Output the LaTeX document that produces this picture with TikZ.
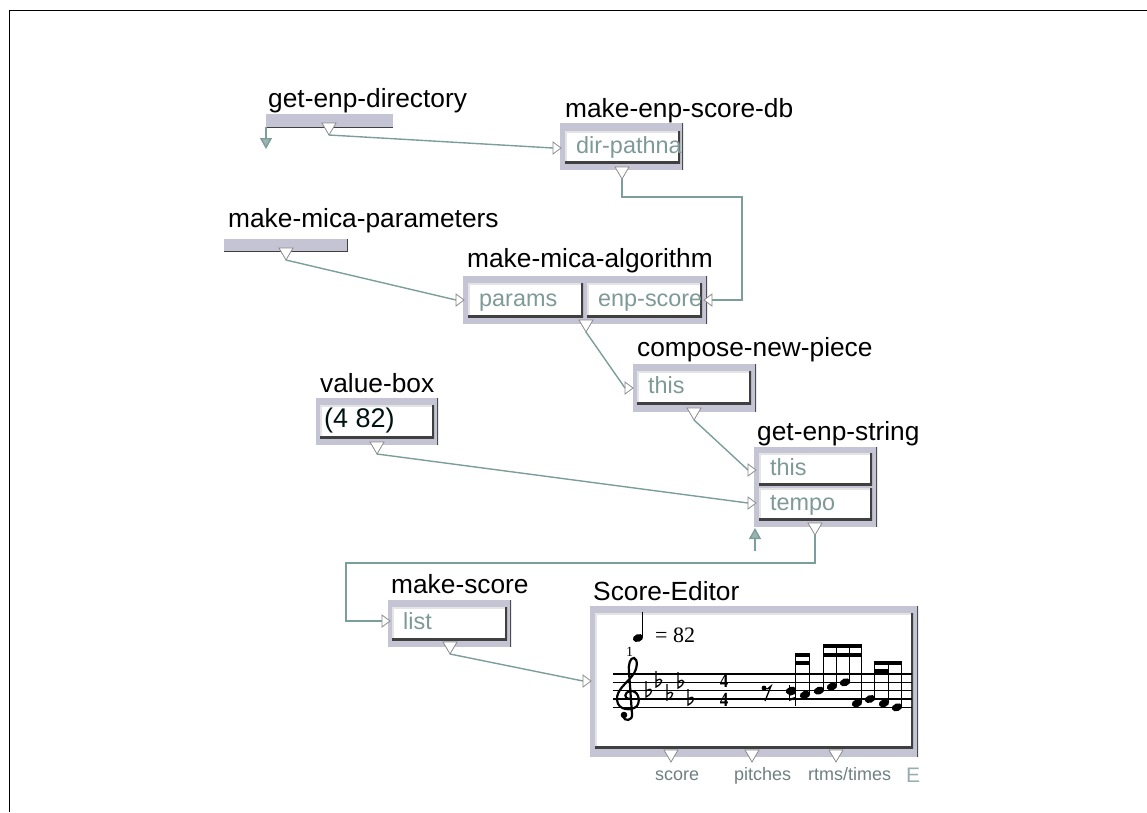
\documentclass[tikz,border=0pt]{standalone}
\usepackage{fontspec}
\setmainfont{Liberation Sans}
\newfontfamily\notefont{Liberation Serif}
\usetikzlibrary{arrows.meta}

\definecolor{framegrey}{HTML}{C5C4D4}
\definecolor{fielddark}{HTML}{404040}
\definecolor{fieldlight}{HTML}{E4E4E4}
\definecolor{porttext}{HTML}{7E9A97}
\definecolor{wirecol}{HTML}{7C9E9A}
\definecolor{tricol}{HTML}{8C8C8C}
\definecolor{arrowfill}{HTML}{9DB3B1}
\definecolor{outtext}{HTML}{6E8080}

\tikzset{
    boxframe/.style={anchor=north west, fill=framegrey, inner sep=0pt,
        path picture={\draw[black!70, line width=1.5pt]
            (path picture bounding box.north east) -- (path picture bounding box.south east);}},
    field/.style={anchor=north west, fill=white, inner sep=0pt,
        path picture={
            \draw[fieldlight, line width=4pt] (path picture bounding box.south west)
                -- (path picture bounding box.north west) -- (path picture bounding box.north east);
            \draw[fielddark, line width=5pt] (path picture bounding box.south west)
                -- (path picture bounding box.south east) -- (path picture bounding box.north east);}},
    lbl/.style={anchor=base west, inner sep=0pt, font=\fontsize{26.3}{30}\selectfont},
    porttxt/.style={anchor=west, inner sep=0pt, xshift=11pt, text=porttext,
        text height=17pt, text depth=5pt, font=\fontsize{23.4}{26}\selectfont},
    outlbl/.style={anchor=base west, inner sep=0pt, text=outtext, font=\fontsize{18}{20}\selectfont},
    wire/.style={draw=wirecol, line width=1.4pt},
    tri/.style={draw=tricol, fill=white, line width=0.8pt, line join=miter},
    outport/.pic={\draw[tri] (-7,0) -- (7,0) -- (0,12) -- cycle; \coordinate (-tip) at (0,12);},
    inport/.pic={\draw[tri] (-8,-6) -- (0,0) -- (-8,6) -- cycle; \coordinate (-base) at (-8,0);},
    flatsign/.pic={\draw[line width=1.3pt] (0,-16) -- (0,0) .. controls (8,-4) and (7,-11) .. (0,-6);},
    timesig/.style={inner sep=0pt, xscale=0.85, align=center,
        font=\notefont\bfseries\fontsize{20}{19.5}\selectfont},
    staffline/.style={line width=1.1pt},
    stem/.style={line width=1pt}
}

\begin{document}
\begin{tikzpicture}[x=1pt,y=-1pt]
    \useasboundingbox (0,0) rectangle (1147,812);
    \draw[line width=1pt] (9.5,812) -- (9.5,10.5) -- (1147,10.5);

    % Labels
    \node[lbl] (ged-lbl) at (268,107) {get-enp-directory};
    \node[lbl] (mesd-lbl) at (565,117) {make-enp-score-db};
    \node[lbl] (mmp-lbl) at (228,227) {make-mica-parameters};
    \node[lbl] (mma-lbl) at (467,267) {make-mica-algorithm};
    \node[lbl] (cnp-lbl) at (637,356) {compose-new-piece};
    \node[lbl] (vb-lbl) at (320,392) {value-box};
    \node[lbl] (ges-lbl) at (757,440) {get-enp-string};
    \node[lbl] (ms-lbl) at (391,593) {make-score};
    \node[lbl] (se-lbl) at (593,600) {Score-Editor};

    % Bars without inputs
    \fill[framegrey] (266,114) rectangle (393,127);
    \draw[fielddark, line width=1pt] (266,127) -- (393,127);
    \fill[framegrey] (224,239) rectangle (347,251);
    \draw[fielddark, line width=1pt] (224,251) -- (347,251) -- (347,239);

    % Frames
    \node[boxframe, minimum width=123pt, minimum height=47pt] (mesd) at (560,123) {};
    \node[boxframe, minimum width=244pt, minimum height=48pt] (mma) at (463,276) {};
    \node[boxframe, minimum width=123pt, minimum height=48pt] (cnp) at (633,364) {};
    \node[boxframe, minimum width=122pt, minimum height=47pt] (vb) at (316,398) {};
    \node[boxframe, minimum width=123pt, minimum height=80pt] (ges) at (754,447) {};
    \node[boxframe, minimum width=123pt, minimum height=47pt] (ms) at (388,600) {};
    \node[boxframe, minimum width=328pt, minimum height=151pt] (se) at (590,606) {};

    % Fields
    \node[field, minimum width=115pt, minimum height=32pt] (mesd-f) at (565,131) {};
    \node[porttxt] (mesd-t) at (mesd-f.west) {dir-pathna};
    \node[field, minimum width=115pt, minimum height=34pt] (mma-f1) at (468,283) {};
    \node[porttxt] (mma-t1) at (mma-f1.west) {params};
    \node[field, minimum width=115pt, minimum height=34pt] (mma-f2) at (587,283) {};
    \node[porttxt] (mma-t2) at (mma-f2.west) {enp-score};
    \node[field, minimum width=114pt, minimum height=33pt] (cnp-f) at (637,371) {};
    \node[porttxt] (cnp-t) at (cnp-f.west) {this};
    \node[field, minimum width=114pt, minimum height=33pt] (vb-f) at (320,405) {};
    \node[porttxt, xshift=-7pt, text=black!85!teal, font=\fontsize{27}{30}\selectfont] (vb-t) at (vb-f.west) {(4 82)};
    \node[field, minimum width=113pt, minimum height=32pt] (ges-f1) at (759,453) {};
    \node[porttxt] (ges-t1) at (ges-f1.west) {this};
    \node[field, minimum width=113pt, minimum height=32pt] (ges-f2) at (759,488) {};
    \node[porttxt] (ges-t2) at (ges-f2.west) {tempo};
    \node[field, minimum width=115pt, minimum height=33pt] (ms-f) at (392,607) {};
    \node[porttxt] (ms-t) at (ms-f.west) {list};
    \node[field, minimum width=318pt, minimum height=135pt] (se-f) at (595,613) {};

    % Score
    \foreach \s in {0,...,4}
        \draw[staffline] (613,{674+8.33*\s}) -- (912,{674+8.33*\s});
    \draw[line width=2.2pt, line cap=round]
        (629,699) .. controls (624,699) and (624,692) .. (630,691)
        .. controls (638,690) and (641,700) .. (637,706)
        .. controls (632,711) and (618,711) .. (617,700)
        .. controls (616,690) and (627,683) .. (632,676)
        .. controls (638,669) and (638,659) .. (634,658)
        .. controls (630,657) and (628,666) .. (629,672)
        -- (632,714)
        .. controls (633,721) and (624,722) .. (623,716);
    \fill (624,715) circle (3.3);
    \foreach \fx/\fy in {646/697, 656/687, 667/700, 678/688, 688/705}
        \pic at (\fx,\fy) {flatsign};
    \node[timesig] (ts) at (724,690.5) {4\\4};
    \fill (764,688) circle (2.4);
    \draw[line width=1.3pt] (764,689) .. controls (767,690) and (769,688) .. (771,686) -- (765,701);
    \foreach \hx/\hy/\top in {791/690.6/653, 805/694.8/653, 819/690.6/644, 832/686.5/644, 845/682.3/644,
                              857/703.2/644, 870/699/661, 884/703.2/661, 897/707.3/661} {
        \fill[shift={(\hx,\hy)}, rotate=20] (0,0) ellipse [x radius=5.4pt, y radius=3.8pt];
        \draw[stem] ({\hx+4.7},{\hy-1}) -- ({\hx+4.7},\top);
    }
    \fill (795.2,653) rectangle (810.2,657);
    \fill (795.2,661) rectangle (810.2,665);
    \fill (823.2,644) rectangle (862.2,648);
    \fill (823.2,653) rectangle (862.2,657);
    \fill (874.2,661) rectangle (902.2,665);
    \fill (874.2,669) rectangle (889.2,673);
    \draw[line width=0.9pt] (789,685) -- (789,700) (795,690) -- (795,706);
    \draw[line width=2pt] (789,695) -- (795,693) (789,700) -- (795,698);
    % tempo mark
    \fill[shift={(638,638)}, rotate=20] (0,0) ellipse [x radius=5.3pt, y radius=3.8pt];
    \draw[line width=1.1pt] (642.8,637) -- (642.8,612);
    \node[anchor=base west, inner sep=0pt, font=\notefont\fontsize{22}{24}\selectfont] (tempo) at (655,642) {= 82};
    \node[anchor=base west, inner sep=0pt, font=\notefont\fontsize{14}{16}\selectfont] (barno) at (626,656) {1};

    % Output labels
    \node[outlbl] (se-o1) at (655,780) {score};
    \node[outlbl] (se-o2) at (734,780) {pitches};
    \node[outlbl] (se-o3) at (808,780) {rtms/times};
    \node[anchor=base west, inner sep=0pt, text=porttext!80, font=\fontsize{21}{24}\selectfont] (se-e) at (906,782) {E};

    % Ports
    \pic (ged) at (329,123) {outport};
    \pic (mesd-out) at (622,167) {outport};
    \pic (mmp) at (286,248) {outport};
    \pic (mma-out) at (586,320) {outport};
    \pic (cnp-out) at (694,408) {outport};
    \pic (vb-out) at (377,442) {outport};
    \pic (ges-out) at (815,523) {outport};
    \pic (ms-out) at (450,642) {outport};
    \foreach \ox in {671,752,836}
        \pic at (\ox,750) {outport};
    \pic (mesd-in) at (561,148) {inport};
    \pic (mma-in1) at (464,300) {inport};
    \pic[xscale=-1] (mma-in2) at (704,300) {inport};
    \pic (cnp-in) at (633,388) {inport};
    \pic (ges-in1) at (756,470) {inport};
    \pic (ges-in2) at (756,503) {inport};
    \pic (ms-in) at (390,621) {inport};
    \pic (se-in) at (591,681) {inport};

    % Connections
    \coordinate (bendA) at (742,197);
    \coordinate (bendB) at (346,563);
    \draw[wire] (ged-tip) -- (mesd-in-base);
    \draw[wire] (mesd-out-tip) |- (bendA) |- (mma-in2-base);
    \draw[wire] (mmp-tip) -- (mma-in1-base);
    \draw[wire] (mma-out-tip) -- (cnp-in-base);
    \draw[wire] (cnp-out-tip) -- (ges-in1-base);
    \draw[wire] (vb-out-tip) -- (ges-in2-base);
    \draw[wire] (ges-out-tip) |- (bendB) |- (ms-in-base);
    \draw[wire] (ms-out-tip) -- (se-in-base);

    % Free arrows
    \coordinate (ged-left) at (266,127);
    \coordinate (ged-leftend) at (266,149);
    \draw[wire, -{Triangle[length=11pt, width=12pt, fill=arrowfill]}] (ged-left) -- (ged-leftend);
    \coordinate (ges-up) at (755,551);
    \coordinate (ges-upend) at (755,528);
    \draw[wire, -{Triangle[length=11pt, width=12pt, fill=arrowfill]}] (ges-up) -- (ges-upend);
\end{tikzpicture}
\end{document}
